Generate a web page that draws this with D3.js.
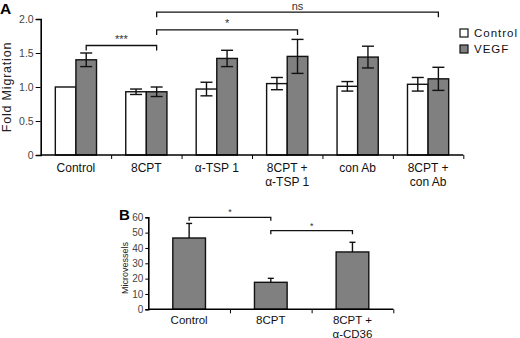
<!DOCTYPE html>
<html>
<head>
<meta charset="utf-8">
<script src="https://cdn.jsdelivr.net/npm/d3@7"></script>
<style>
  body { margin: 0; background: #fff; }
  svg { font-family: "Liberation Sans", Arial, sans-serif; }
  .tick text { fill: #444; }
</style>
</head>
<body>
<div id="chart-area"></div>
<script>
// Panel A data: fold migration, control vs VEGF
const groupsA = ["Control", "8CPT", "α-TSP 1", "8CPT +|α-TSP 1", "con Ab", "8CPT +|con Ab"];
const seriesA = ["Control", "VEGF"];
const controlMean = [1.00, 0.93, 0.97, 1.05, 1.01, 1.04];
const controlErr  = [0.00, 0.04, 0.10, 0.09, 0.07, 0.10];
const vegfMean    = [1.40, 0.93, 1.42, 1.45, 1.44, 1.12];
const vegfErr     = [0.10, 0.07, 0.12, 0.25, 0.16, 0.17];
const ticksA = [0, 0.5, 1.0, 1.5, 2.0];

// significance brackets for panel A (attach to VEGF bars)
const bracketsA = [
    {from: 0, to: 1, level: 1.61, label: "***"},
    {from: 1, to: 3, level: 1.84, label: "*"},
    {from: 1, to: 5, level: 2.10, label: "ns"}
];

// Panel B data: microvessels
const groupsB = ["Control", "8CPT", "8CPT +|α-CD36"];
const microMean = [46.5, 17.6, 37.4];
const microErr  = [9.5, 2.6, 6.3];
const ticksB = [0, 10, 20, 30, 40, 50, 60];
const bracketsB = [
    {from: 0, to: 1, level: 60, label: "*"},
    {from: 1, to: 2, level: 51.3, label: "*"}
];

const svg = d3.select("#chart-area").append("svg")
    .attr("width", 520)
    .attr("height", 338);

// ---------- Panel A ----------
let axA = {left: 40.7, right: 463.3, top: 19, bottom: 155};

let x0 = d3.scaleBand()
    .domain(groupsA)
    .range([axA.left, axA.right]);

let x1 = d3.scaleBand()
    .domain(seriesA)
    .range([0, x0.bandwidth()])
    .paddingInner(0)
    .paddingOuter(0.71);

let yA = d3.scaleLinear()
    .domain([0, 2])
    .range([axA.bottom, axA.top]);

let gA = svg.append("g");

let rowsA = groupsA.map((g, i) => ({
    group: g,
    values: [
        {key: "Control", mean: controlMean[i], err: controlErr[i]},
        {key: "VEGF", mean: vegfMean[i], err: vegfErr[i]}
    ]
}));

let color = {Control: "#ffffff", VEGF: "#808080"};

let grp = gA.selectAll(".grp")
    .data(rowsA)
    .enter().append("g")
    .attr("transform", d => "translate(" + x0(d.group) + ",0)");

grp.selectAll("rect")
    .data(d => d.values)
    .enter().append("rect")
    .attr("x", d => x1(d.key))
    .attr("y", d => yA(d.mean))
    .attr("width", x1.bandwidth())
    .attr("height", d => yA(0) - yA(d.mean))
    .attr("fill", d => color[d.key])
    .attr("stroke", "#111")
    .attr("stroke-width", 1.4);

// error bars
let eb = grp.selectAll(".err")
    .data(d => d.values.filter(v => v.err > 0))
    .enter().append("g")
    .attr("class", "err")
    .attr("stroke", "#111")
    .attr("stroke-width", 1.4);

eb.append("line")
    .attr("x1", d => x1(d.key) + x1.bandwidth() / 2)
    .attr("x2", d => x1(d.key) + x1.bandwidth() / 2)
    .attr("y1", d => yA(d.mean + d.err))
    .attr("y2", d => yA(d.mean - d.err));
eb.selectAll(".cap")
    .data(d => [d.mean + d.err, d.mean - d.err].map(v => ({key: d.key, v: v})))
    .enter().append("line")
    .attr("x1", d => x1(d.key) + x1.bandwidth() / 2 - 6)
    .attr("x2", d => x1(d.key) + x1.bandwidth() / 2 + 6)
    .attr("y1", d => yA(d.v))
    .attr("y2", d => yA(d.v));

// y axis
gA.append("g")
    .attr("transform", "translate(" + axA.left + ",0)")
    .call(d3.axisLeft(yA).tickValues(ticksA).tickSize(5).tickPadding(2)
        .tickFormat(d => d === 0 ? "0" : d3.format(".1f")(d)))
    .call(g => g.select(".domain").attr("stroke-width", 1.6))
    .call(g => g.selectAll(".tick text").attr("font-size", 10.5));

// x axis with ticks at band boundaries
let xEdgeA = d3.scaleLinear().domain([0, groupsA.length]).range([axA.left, axA.right]);
gA.append("g")
    .attr("transform", "translate(0," + axA.bottom + ")")
    .call(d3.axisBottom(xEdgeA).tickValues(d3.range(1, groupsA.length + 1)).tickSize(4).tickFormat(""))
    .call(g => g.select(".domain").attr("stroke-width", 1.6).attr("d", "M" + axA.left + ",0H" + axA.right));

// category labels
groupsA.forEach(g => {
    let lines = g.split("|");
    let t = gA.append("text")
        .attr("x", x0(g) + x0.bandwidth() / 2)
        .attr("y", 172)
        .attr("text-anchor", "middle")
        .attr("font-size", 12)
        .attr("fill", "#111");
    lines.forEach((l, i) => {
        t.append("tspan")
            .attr("x", x0(g) + x0.bandwidth() / 2)
            .attr("dy", i === 0 ? 0 : 14)
            .text(l);
    });
});

// y label
gA.append("text")
    .attr("transform", "rotate(-90)")
    .attr("x", -87)
    .attr("y", 11)
    .attr("text-anchor", "middle")
    .attr("font-size", 12.5)
    .attr("letter-spacing", 0.8)
    .attr("fill", "#222")
    .text("Fold Migration");

// brackets
let vegfCenter = i => x0(groupsA[i]) + x1("VEGF") + x1.bandwidth() / 2;
bracketsA.forEach(b => {
    let yy = yA(b.level);
    let xa = vegfCenter(b.from), xb = vegfCenter(b.to);
    gA.append("path")
        .attr("d", "M" + xa + "," + (yy + 5) + "V" + yy + "H" + xb + "V" + (yy + 5))
        .attr("fill", "none")
        .attr("stroke", "#111")
        .attr("stroke-width", 1.3);
    gA.append("text")
        .attr("x", (xa + xb) / 2)
        .attr("y", b.label === "ns" ? yy - 2 : yy - 3)
        .attr("text-anchor", "middle")
        .attr("font-size", 11)
        .attr("fill", "#333")
        .text(b.label);
});

// legend
let legend = gA.selectAll(".legend")
    .data(seriesA)
    .enter().append("g")
    .attr("transform", (d, i) => "translate(460," + (29 + i * 16) + ")");
legend.append("rect")
    .attr("width", 8)
    .attr("height", 8)
    .attr("fill", d => color[d])
    .attr("stroke", "#111")
    .attr("stroke-width", 1.2);
legend.append("text")
    .attr("x", 14)
    .attr("y", 8)
    .attr("font-size", 11.5)
    .attr("letter-spacing", 1)
    .attr("fill", "#111")
    .text(d => d);

svg.append("text")
    .attr("x", 0)
    .attr("y", 14)
    .attr("font-size", 15.5)
    .attr("font-weight", "bold")
    .text("A");

// ---------- Panel B ----------
let axB = {left: 148.3, right: 393.3, top: 217.3, bottom: 309.3};

let xB = d3.scaleBand()
    .domain(groupsB)
    .range([axB.left, axB.right])
    .paddingInner(0.6)
    .paddingOuter(0.3);

let yB = d3.scaleLinear()
    .domain([0, 60])
    .range([axB.bottom, axB.top]);

let gB = svg.append("g");

let rowsB = groupsB.map((g, i) => ({group: g, mean: microMean[i], err: microErr[i]}));

gB.selectAll(".barB")
    .data(rowsB)
    .enter().append("rect")
    .attr("x", d => xB(d.group))
    .attr("y", d => yB(d.mean))
    .attr("width", xB.bandwidth())
    .attr("height", d => yB(0) - yB(d.mean))
    .attr("fill", "#808080")
    .attr("stroke", "#111")
    .attr("stroke-width", 1.4);

let ebB = gB.selectAll(".errB")
    .data(rowsB)
    .enter().append("g")
    .attr("stroke", "#111")
    .attr("stroke-width", 1.4);
ebB.append("line")
    .attr("x1", d => xB(d.group) + xB.bandwidth() / 2)
    .attr("x2", d => xB(d.group) + xB.bandwidth() / 2)
    .attr("y1", d => yB(d.mean))
    .attr("y2", d => yB(d.mean + d.err));
ebB.append("line")
    .attr("x1", d => xB(d.group) + xB.bandwidth() / 2 - 3)
    .attr("x2", d => xB(d.group) + xB.bandwidth() / 2 + 3)
    .attr("y1", d => yB(d.mean + d.err))
    .attr("y2", d => yB(d.mean + d.err));

gB.append("g")
    .attr("transform", "translate(" + axB.left + ",0)")
    .call(d3.axisLeft(yB).tickValues(ticksB).tickSize(3).tickPadding(2))
    .call(g => g.select(".domain").attr("stroke-width", 1.6))
    .call(g => g.selectAll(".tick text").attr("font-size", 10));

let xEdgeB = d3.scaleLinear().domain([0, groupsB.length]).range([axB.left, axB.right]);
gB.append("g")
    .attr("transform", "translate(0," + axB.bottom + ")")
    .call(d3.axisBottom(xEdgeB).tickValues(d3.range(1, groupsB.length + 1)).tickSize(4).tickFormat(""))
    .call(g => g.select(".domain").attr("stroke-width", 1.6).attr("d", "M" + axB.left + ",0H" + axB.right));

groupsB.forEach(g => {
    let cx = xB(g) + xB.bandwidth() / 2;
    let t = gB.append("text")
        .attr("y", 324)
        .attr("text-anchor", "middle")
        .attr("font-size", 11.5)
        .attr("fill", "#111");
    g.split("|").forEach((l, i) => {
        t.append("tspan")
            .attr("x", cx)
            .attr("dy", i === 0 ? 0 : 13.5)
            .text(l);
    });
});

gB.append("text")
    .attr("transform", "rotate(-90)")
    .attr("x", -268)
    .attr("y", 128)
    .attr("text-anchor", "middle")
    .attr("font-size", 9)
    .attr("fill", "#222")
    .text("Microvessels");

bracketsB.forEach(b => {
    let yy = yB(b.level);
    let xa = xB(groupsB[b.from]) + xB.bandwidth() / 2;
    let xb = xB(groupsB[b.to]) + xB.bandwidth() / 2;
    gB.append("path")
        .attr("d", "M" + xa + "," + (yy + 3.5) + "V" + yy + "H" + xb + "V" + (yy + 3.5))
        .attr("fill", "none")
        .attr("stroke", "#111")
        .attr("stroke-width", 1.3);
    gB.append("text")
        .attr("x", (xa + xb) / 2)
        .attr("y", yy - 2)
        .attr("text-anchor", "middle")
        .attr("font-size", 9)
        .attr("fill", "#333")
        .text(b.label);
});

svg.append("text")
    .attr("x", 119)
    .attr("y", 219.5)
    .attr("font-size", 15)
    .attr("font-weight", "bold")
    .text("B");
</script>
</body>
</html>
